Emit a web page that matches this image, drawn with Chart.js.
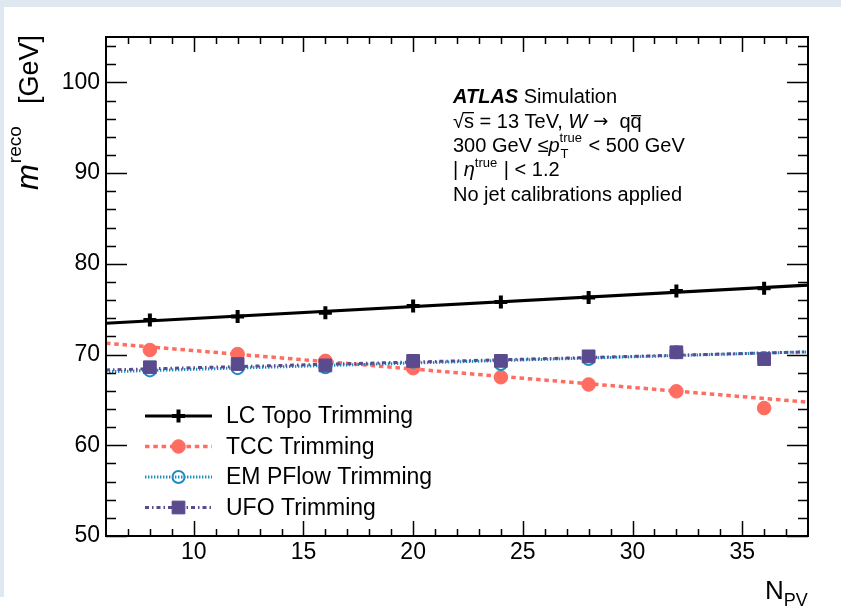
<!DOCTYPE html>
<html>
<head>
<meta charset="utf-8">
<script src="https://cdn.jsdelivr.net/npm/chart.js@4.4.1/dist/chart.umd.min.js"></script>
<style>
  html, body { margin: 0; padding: 0; background: #fff; }
  canvas { display: block; }
</style>
</head>
<body>
<canvas id="massChart" width="841" height="606"></canvas>
<script>
var npv = [8, 12, 16, 20, 24, 28, 32, 36];
var lcTopo = [73.8, 74.2, 74.6, 75.35, 75.8, 76.3, 77.0, 77.3];
var tcc = [70.5, 70.05, 69.3, 68.5, 67.5, 66.7, 65.95, 64.1];
var emPflow = [68.25, 68.5, 68.6, 69.2, 68.95, 69.5, 70.25, 69.6];
var ufo = [68.6, 68.95, 68.8, 69.3, 69.3, 69.8, 70.25, 69.5];

// linear fits, evaluated at both ends of the N_PV range
var fitRange = [6, 38];
var lcTopoFit = [73.45, 77.65];
var tccFit = [71.25, 64.75];
var emPflowFit = [68.1, 70.3];
var ufoFit = [68.3, 70.3];

var xTicks = [10, 15, 20, 25, 30, 35];
var yTicks = [50, 60, 70, 80, 90, 100];
var seriesNames = ["LC Topo Trimming", "TCC Trimming", "EM PFlow Trimming", "UFO Trimming"];

var FONT = '"Liberation Sans", Arial, Helvetica, sans-serif';

var styles = [
    {color: "#000000", dash: [], width: 3.2, point: "cross", radius: 6.5, pw: 4, fill: "#000000"},
    {color: "#ff6c60", dash: [4.5, 3.8], width: 3.5, point: "circle", radius: 6.8, pw: 1, fill: "#ff6c60"},
    {color: "#1f8cc0", dash: [1.4, 1.6], width: 3, point: "circle", radius: 6, pw: 2, fill: "rgba(255,255,255,0)"},
    {color: "#5a4a8e", dash: [4, 3, 1.5, 3], width: 3, point: "rect", radius: 9, pw: 1, fill: "#5a4a8e"}
];

function pairs(xs, ys) {
    return xs.map(function (x, i) { return {x: x, y: ys[i]}; });
}

var pointSets = [lcTopo, tcc, emPflow, ufo];
var fitSets = [lcTopoFit, tccFit, emPflowFit, ufoFit];
var datasets = [];

// fit lines go underneath, markers on top (UFO last)
fitSets.forEach(function (fit, i) {
    var s = styles[i];
    datasets.push({
        type: "line",
        label: seriesNames[i] + " fit",
        data: pairs(fitRange, fit),
        borderColor: s.color,
        borderWidth: s.width,
        borderDash: s.dash,
        pointRadius: 0,
        fill: false,
        order: 10 + (3 - i)
    });
});
pointSets.forEach(function (vals, i) {
    var s = styles[i];
    datasets.push({
        type: "scatter",
        label: seriesNames[i],
        data: pairs(npv, vals),
        showLine: false,
        pointStyle: s.point,
        pointRadius: s.radius,
        pointBorderWidth: s.pw,
        pointBorderColor: s.color,
        pointBackgroundColor: s.fill,
        order: 3 - i
    });
});

function drawRuns(ctx, x, y, runs) {
    runs.forEach(function (r) {
        ctx.font = r.font;
        ctx.fillText(r.t, x, y + (r.dy || 0));
        var w = ctx.measureText(r.t).width;
        if (r.sub) {
            ctx.font = r.sub.font;
            ctx.fillText(r.sub.t, x + (r.sub.dx || 0), y + r.sub.dy);
        }
        if (r.bar) {
            ctx.fillRect(x + r.bar[0], y + r.bar[1], w + r.bar[2], 1.3);
        }
        x += w + (r.kern || 0);
    });
    return x;
}

var frame = {
    id: "frame",
    beforeDraw: function (chart) {
        var ctx = chart.ctx;
        ctx.save();
        ctx.fillStyle = "#ffffff";
        ctx.fillRect(0, 0, chart.width, chart.height);
        ctx.fillStyle = "#dfe7f1";
        ctx.fillRect(0, 0, chart.width, 7);
        ctx.fillRect(0, 0, 4, 597);
        ctx.restore();
    },
    afterDraw: function (chart) {
        var ctx = chart.ctx;
        var a = chart.chartArea;
        var xs = chart.scales.x, ys = chart.scales.y;
        var v, p, len;
        ctx.save();
        ctx.strokeStyle = "#000";
        ctx.lineWidth = 1.5;
        ctx.beginPath();
        // y ticks, left and right, pointing inwards
        for (v = 50; v <= 104; v += 2) {
            p = Math.round(ys.getPixelForValue(v)) + 0.5;
            len = v % 10 === 0 ? 21 : 10;
            ctx.moveTo(a.left, p); ctx.lineTo(a.left + len, p);
            ctx.moveTo(a.right, p); ctx.lineTo(a.right - len, p);
        }
        // x ticks, bottom and top
        for (v = 7; v <= 37; v += 1) {
            p = Math.round(xs.getPixelForValue(v)) + 0.5;
            len = v % 5 === 0 ? 15 : 7;
            ctx.moveTo(p, a.bottom); ctx.lineTo(p, a.bottom - len);
            ctx.moveTo(p, a.top); ctx.lineTo(p, a.top + len);
        }
        ctx.stroke();
        ctx.lineWidth = 2;
        ctx.strokeRect(a.left, a.top, a.right - a.left, a.bottom - a.top);

        // legend
        ctx.fillStyle = "#000";
        var lx0 = 145, lx1 = 212, lxm = 178.5, rowY = [416, 446.5, 477, 507.5];
        styles.forEach(function (s, i) {
            var y = rowY[i];
            ctx.save();
            ctx.strokeStyle = s.color;
            ctx.lineWidth = s.width;
            ctx.setLineDash(s.dash);
            ctx.beginPath();
            ctx.moveTo(lx0, y); ctx.lineTo(lx1, y);
            ctx.stroke();
            ctx.setLineDash([]);
            ctx.fillStyle = s.fill;
            ctx.lineWidth = s.pw;
            Chart.helpers.drawPoint(ctx, {pointStyle: s.point, radius: s.radius, borderWidth: s.pw, rotation: 0}, lxm, y);
            ctx.restore();
            ctx.font = "23px " + FONT;
            ctx.textBaseline = "middle";
            ctx.fillText(seriesNames[i], 226, y + 1);
        });

        // ATLAS label block
        ctx.textBaseline = "alphabetic";
        var tx = 453, reg = "20px " + FONT, small = "13px " + FONT;
        drawRuns(ctx, tx, 103, [
            {t: "ATLAS", font: "italic bold 20px " + FONT, kern: 0},
            {t: " Simulation", font: reg}
        ]);
        var x2 = drawRuns(ctx, tx, 128, [{t: "\u221A", font: reg}]);
        drawRuns(ctx, x2, 128, [
            {t: "s", font: reg, bar: [-1, -16, 1]},
            {t: " = 13 TeV, ", font: reg},
            {t: "W", font: "italic 20px " + FONT, kern: 6},
            {t: "\u2192", font: "18px \"DejaVu Sans\", " + FONT, dy: -1},
            {t: "  q", font: reg},
            {t: "q", font: reg, bar: [0.5, -13, -1]}
        ]);
        drawRuns(ctx, tx, 152, [
            {t: "300 GeV \u2264", font: reg},
            {t: "p", font: "italic 20px " + FONT, kern: 0},
            {t: "true", font: small, dy: -10, sub: {t: "T", font: small, dy: 6, dx: 1}, kern: 1},
            {t: " < 500 GeV", font: reg}
        ]);
        drawRuns(ctx, tx, 176, [
            {t: "| ", font: reg},
            {t: "\u03B7", font: "italic 20px " + FONT},
            {t: "true", font: small, dy: -9, kern: 1},
            {t: " | < 1.2", font: reg}
        ]);
        drawRuns(ctx, tx, 201, [{t: "No jet calibrations applied", font: reg}]);

        // x axis title
        drawRuns(ctx, 765, 599, [
            {t: "N", font: "26px " + FONT},
            {t: "PV", font: "18px " + FONT, dy: 7}
        ]);

        // y axis title, rotated
        ctx.save();
        ctx.translate(38, 190);
        ctx.rotate(-Math.PI / 2);
        var xm = drawRuns(ctx, 0, 0, [{t: "m", font: "italic 31px " + FONT, kern: 1}]);
        drawRuns(ctx, xm, -17, [{t: "reco", font: "19px " + FONT}]);
        ctx.font = "27px " + FONT;
        ctx.textAlign = "right";
        ctx.fillText("[GeV]", 190 - 35, 0);
        ctx.restore();

        ctx.restore();
    }
};

var config = {
    data: {datasets: datasets},
    options: {
        responsive: false,
        animation: false,
        devicePixelRatio: 1,
        layout: {padding: {top: 37, right: 33, left: 0, bottom: 0}},
        plugins: {legend: {display: false}, tooltip: {enabled: false}},
        scales: {
            x: {
                type: "linear",
                min: 6,
                max: 38,
                afterBuildTicks: function (s) { s.ticks = xTicks.map(function (v) { return {value: v}; }); },
                afterFit: function (s) { s.height = 70; },
                grid: {drawOnChartArea: false, drawTicks: false},
                border: {display: false},
                ticks: {color: "#000", padding: 3, maxRotation: 0, autoSkip: false, font: {family: FONT, size: 23}}
            },
            y: {
                type: "linear",
                min: 50,
                max: 105,
                afterBuildTicks: function (s) { s.ticks = yTicks.map(function (v) { return {value: v}; }); },
                afterFit: function (s) { s.width = 106; },
                grid: {drawOnChartArea: false, drawTicks: false},
                border: {display: false},
                ticks: {color: "#000", padding: 6, font: {family: FONT, size: 23}}
            }
        }
    },
    plugins: [frame]
};

var massChart = new Chart(document.getElementById("massChart"), config);
</script>
</body>
</html>
